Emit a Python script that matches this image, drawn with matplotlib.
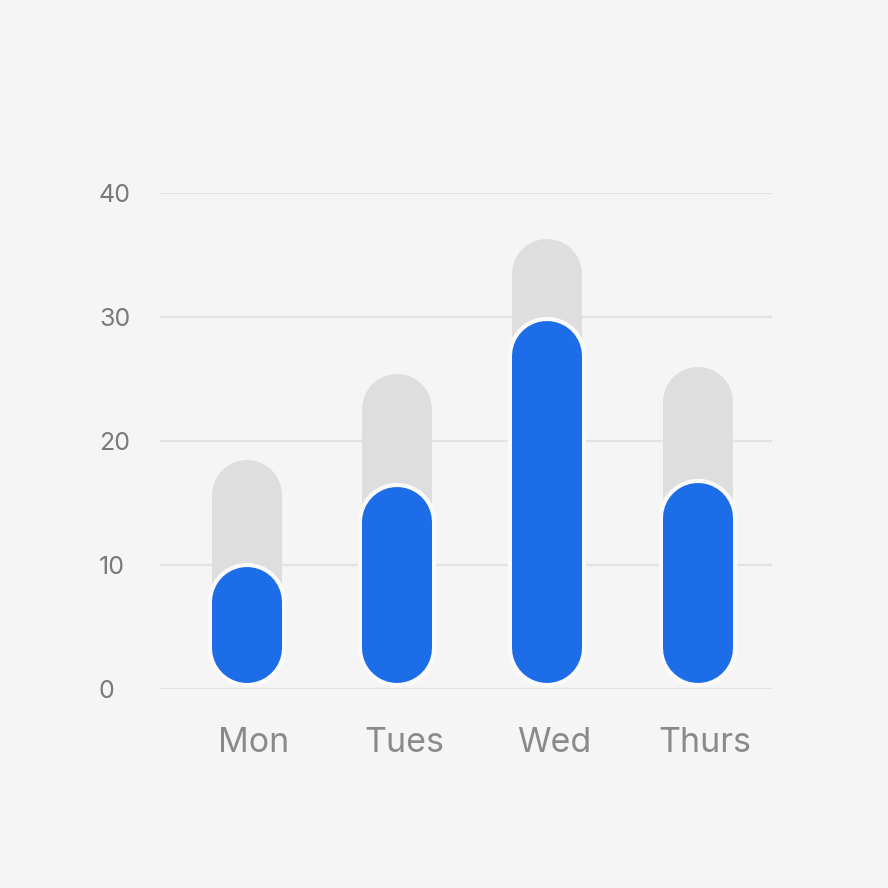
import numpy as np
import matplotlib.pyplot as plt
import matplotlib.patheffects as pe
from matplotlib.transforms import ScaledTranslation

days = ["Mon", "Tues", "Wed", "Thurs"]
goal = [18.5, 25.4, 36.3, 26.0]     # grey track (top value)
actual = [9.8, 16.3, 29.7, 16.6]    # blue bar (top value)
base = 0.5
yticks = [0, 10, 20, 30, 40]

BG = '#f5f5f5'
BLUE = '#1d6ce8'
GREY = '#dedede'
GRID = '#e2e2e2'
DPI = 100
BAR_PX = 70

plt.rcParams['font.family'] = ['Inter', 'DejaVu Sans']

fig = plt.figure(figsize=(8.88, 8.88), dpi=DPI, facecolor=BG)
W = H = 888
ax = fig.add_axes([160 / W, (888 - 689) / H, (772 - 160) / W, (689 - 193) / H])
ax.set_facecolor(BG)
ax.set_ylim(0, 40)
ax.set_xlim(-0.576, 3.493)

for s in ax.spines.values():
    s.set_visible(False)

ax.set_yticks(yticks)
ax.set_yticklabels([str(t) for t in yticks], ha='left')
ax.tick_params(axis='y', length=0, pad=44, labelsize=18, labelcolor='#7a7a7a')
ax.yaxis.grid(True, color=GRID, linewidth=1.6, zorder=0)
ax.set_axisbelow(True)

x = np.arange(len(days))
ax.set_xticks(x)
ax.set_xticklabels(days)
ax.tick_params(axis='x', length=0, pad=27, labelsize=24.5, labelcolor='#8a8a8a')
for lbl in ax.get_xticklabels():
    lbl.set_transform(lbl.get_transform() + ScaledTranslation(5 / 72, 0, fig.dpi_scale_trans))

# cap radius in data units
px_per_unit = ax.transData.transform((0, 1))[1] - ax.transData.transform((0, 0))[1]
r = (BAR_PX / 2) / px_per_unit
lw = BAR_PX * 72 / DPI

for i in range(len(days)):
    ax.plot([x[i], x[i]], [base + r, goal[i] - r], color=GREY, lw=lw,
            solid_capstyle='round', zorder=2, clip_on=False)
    ax.plot([x[i], x[i]], [base + r, actual[i] - r], color=BLUE, lw=lw,
            solid_capstyle='round', zorder=3, clip_on=False,
            path_effects=[pe.Stroke(linewidth=lw + 6, foreground='#fafafa'), pe.Normal()])

fig.savefig('out.png', dpi=DPI, facecolor=BG)
